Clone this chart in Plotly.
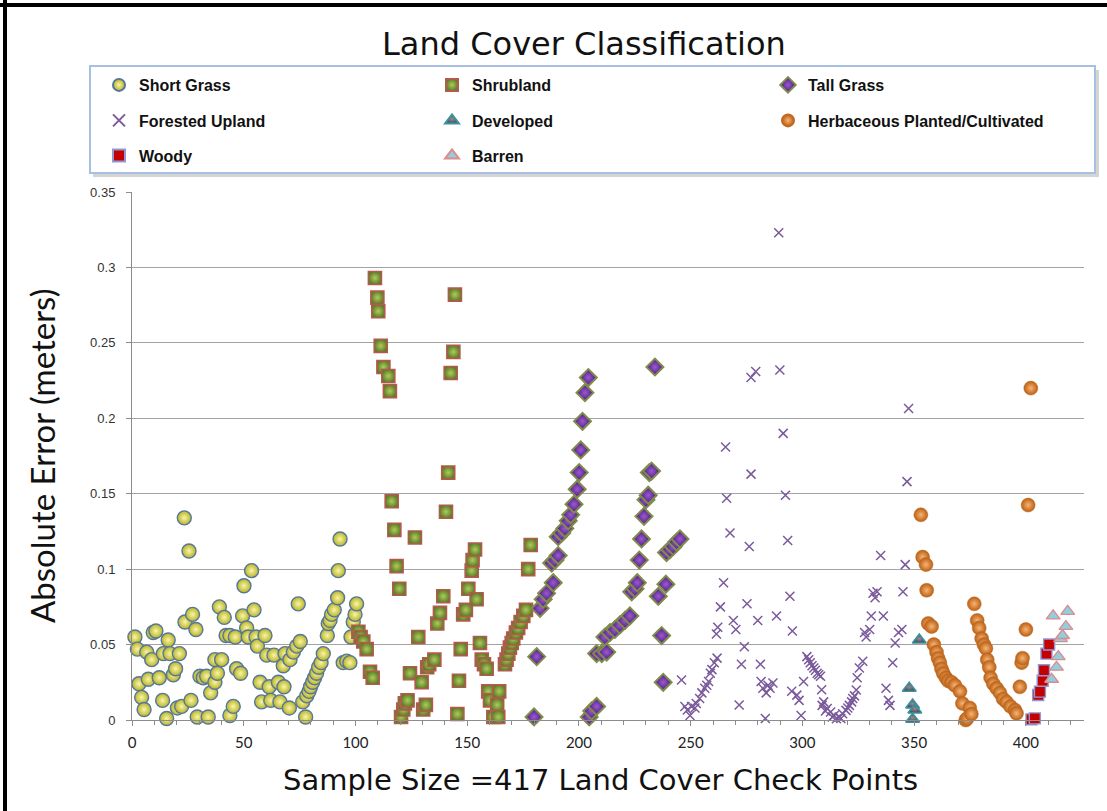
import plotly.graph_objects as go

# ---------------- data ----------------
categories = ["Short Grass", "Shrubland", "Tall Grass", "Forested Upland",
              "Developed", "Herbaceous Planted/Cultivated", "Woody", "Barren"]

short_grass_x = [1.3, 2.4, 3.1, 4.3, 5.4, 6.6, 7.3, 8.8, 9.5, 10.7, 12.2, 13.7, 14.0, 15.5, 16.2,
                 17.0, 18.5, 19.5, 20.3, 21.2, 22.2, 23.4, 23.7, 25.5, 26.4, 27.1, 28.6, 29.2, 30.4,
                 31.9, 33.4, 34.1, 35.2, 37.1, 37.1, 38.2, 39.1, 40.1, 41.3, 42.1, 43.8, 43.8, 45.3,
                 46.2, 46.8, 48.6, 49.5, 50.1, 51.3, 52.0, 53.5, 54.6, 55.5, 56.1, 57.3, 58.0, 59.5,
                 60.3, 61.4, 62.1, 63.5, 65.5, 66.2, 67.7, 68.0, 68.5, 70.4, 70.7, 72.2, 73.7, 74.4,
                 75.3, 76.4, 77.7, 78.2, 79.2, 79.9, 80.8, 81.7, 82.6, 83.5, 84.6, 85.6, 87.4, 87.8,
                 88.6, 89.3, 90.5, 92.0, 92.3, 93.1, 94.5, 96.1, 97.5, 98.0, 99.0, 99.8, 100.5]
short_grass_y = [0.055, 0.047, 0.024, 0.015, 0.007, 0.045, 0.027, 0.040, 0.058, 0.059, 0.028, 0.013,
                 0.044, 0.001, 0.053, 0.044, 0.030, 0.034, 0.008, 0.044, 0.009, 0.134, 0.065, 0.112,
                 0.013, 0.070, 0.060, 0.002, 0.029, 0.028, 0.029, 0.002, 0.018, 0.040, 0.025, 0.031,
                 0.075, 0.040, 0.068, 0.056, 0.056, 0.003, 0.009, 0.055, 0.034, 0.031, 0.069, 0.089,
                 0.061, 0.055, 0.099, 0.073, 0.055, 0.049, 0.025, 0.012, 0.056, 0.043, 0.022, 0.013,
                 0.043, 0.025, 0.012, 0.036, 0.022, 0.044, 0.008, 0.040, 0.045, 0.049, 0.077, 0.052,
                 0.012, 0.002, 0.016, 0.019, 0.022, 0.025, 0.028, 0.031, 0.035, 0.038, 0.044, 0.056,
                 0.064, 0.066, 0.070, 0.073, 0.081, 0.099, 0.120, 0.038, 0.039, 0.038, 0.055, 0.065,
                 0.070, 0.077]

shrubland_x = [101.3, 102.3, 103.5, 105.0, 106.5, 107.7, 108.7, 109.8, 110.2, 111.3, 112.5, 114.7,
               115.4, 116.2, 117.4, 118.4, 119.6, 120.4, 121.4, 122.1, 123.3, 124.4, 126.6, 128.1,
               129.6, 130.3, 131.5, 132.1, 133.0, 135.3, 136.6, 137.8, 139.3, 140.5, 141.5, 142.6,
               143.8, 144.5, 145.6, 146.3, 147.1, 148.2, 149.4, 150.5, 152.0, 152.4, 153.5, 154.2,
               155.7, 156.5, 157.5, 158.7, 159.4, 160.2, 161.7, 163.4, 163.9, 164.3, 166.9, 167.6,
               168.4, 169.1, 169.9, 170.6, 171.8, 172.8, 173.9, 175.1, 176.3, 177.3, 178.4]
shrubland_y = [0.0585, 0.055, 0.052, 0.047, 0.032, 0.028, 0.293, 0.280, 0.271, 0.248, 0.234, 0.228,
               0.218, 0.145, 0.126, 0.102, 0.087, 0.002, 0.007, 0.011, 0.013, 0.031, 0.121, 0.055,
               0.025, 0.007, 0.010, 0.035, 0.037, 0.040, 0.064, 0.071, 0.082, 0.138, 0.164, 0.230,
               0.244, 0.282, 0.004, 0.026, 0.047, 0.070, 0.073, 0.087, 0.099, 0.106, 0.113, 0.080,
               0.051, 0.040, 0.037, 0.034, 0.019, 0.013, 0.002, 0.010, 0.002, 0.019, 0.037, 0.040,
               0.044, 0.048, 0.051, 0.054, 0.058, 0.061, 0.065, 0.069, 0.073, 0.100, 0.116]

tall_grass_x = [179.9, 181.1, 182.6, 184.0, 185.5, 187.8, 188.5, 189.3, 190.7, 190.7, 192.3, 193.7,
                195.2, 196.3, 197.8, 199.2, 200.1, 200.8, 201.6, 202.7, 204.2, 204.6, 205.7, 207.9,
                207.9, 210.2, 211.6, 212.4, 213.9, 216.1, 218.3, 220.6, 222.8, 223.6, 225.1, 226.1,
                227.0, 228.0, 229.1, 230.0, 231.0, 231.5, 232.5, 234.0, 235.5, 237.0, 237.7, 238.9,
                239.2, 240.7, 242.2, 243.7, 245.2]
tall_grass_y = [0.002, 0.042, 0.074, 0.080, 0.084, 0.104, 0.091, 0.106, 0.109, 0.1215, 0.124, 0.127,
                0.132, 0.136, 0.143, 0.153, 0.164, 0.179, 0.198, 0.217, 0.227, 0.002, 0.006, 0.009,
                0.044, 0.044, 0.055, 0.045, 0.058, 0.060, 0.063, 0.066, 0.069, 0.085, 0.087, 0.091,
                0.106, 0.120, 0.135, 0.146, 0.149, 0.164, 0.165, 0.234, 0.082, 0.056, 0.025, 0.090,
                0.111, 0.113, 0.115, 0.118, 0.120]

forested_x = [245.9, 247.4, 248.5, 249.7, 250.4, 251.9, 252.5, 254.0, 255.0, 256.3, 257.2, 258.0,
              258.8, 259.5, 260.6, 261.5, 261.8, 262.1, 263.3, 264.7, 265.6, 266.1, 267.6, 269.1,
              270.2, 271.7, 272.7, 274.0, 275.2, 276.2, 277.0, 277.0, 279.1, 280.0, 281.2, 281.5,
              282.3, 283.4, 283.8, 284.6, 285.5, 286.8, 288.4, 289.4, 289.9, 291.4, 292.4, 293.4,
              294.4, 295.2, 295.5, 297.5, 298.5, 299.4, 300.5, 302.0, 302.8, 303.5, 304.3, 305.1,
              305.8, 306.6, 307.3, 308.1, 308.6, 308.8, 309.5, 310.3, 311.1, 312.6, 313.4, 314.2,
              315.2, 316.4, 317.2, 318.0, 319.5, 320.3, 321.0, 322.0, 322.5, 323.3, 324.1, 324.5,
              325.5, 327.0, 327.8, 328.5, 330.1, 330.8, 331.6, 332.5, 333.4, 335.0, 336.2, 337.4,
              338.5, 339.2, 340.4, 341.5, 343.0, 344.5, 345.0, 346.0, 346.8, 347.5]
forested_y = [0.0265, 0.009, 0.0066, 0.003, 0.009, 0.008, 0.011, 0.0143, 0.018, 0.021, 0.023, 0.0255,
              0.031, 0.0334, 0.038, 0.057, 0.041, 0.0615, 0.075, 0.091, 0.181, 0.147, 0.124, 0.066,
              0.060, 0.010, 0.037, 0.0485, 0.077, 0.115, 0.163, 0.227, 0.231, 0.066, 0.037, 0.0255,
              0.021, 0.001, 0.018, 0.023, 0.021, 0.0245, 0.069, 0.323, 0.232, 0.190, 0.149, 0.119,
              0.082, 0.019, 0.059, 0.0165, 0.013, 0.003, 0.0255, 0.042, 0.040, 0.038, 0.036, 0.0345,
              0.033, 0.031, 0.030, 0.029, 0.020, 0.0097, 0.012, 0.006, 0.0076, 0.0053, 0.002, 0.003,
              0.0008, 0.0019, 0.001, 0.0042, 0.0064, 0.008, 0.0097, 0.012, 0.0143, 0.016, 0.0199, 0.028,
              0.0345, 0.039, 0.058, 0.055, 0.060, 0.069, 0.084, 0.081, 0.085, 0.109, 0.069, 0.021,
              0.013, 0.0097, 0.038, 0.051, 0.058, 0.060, 0.085, 0.103, 0.158, 0.2065]

developed_x = [347.8, 349.3, 350.3, 349.3, 352.3]
developed_y = [0.021, 0.0099, 0.0066, 0.0005, 0.053]

herbaceous_x = [353.0, 353.8, 355.3, 355.6, 356.3, 357.8, 358.8, 360.0, 360.7, 361.5, 362.2, 363.0,
                364.2, 365.2, 366.7, 368.2, 370.5, 371.6, 373.1, 373.7, 374.9, 375.6, 376.9, 378.2,
                379.1, 380.2, 381.2, 382.1, 382.7, 383.6, 384.2, 385.4, 386.9, 388.4, 389.8, 391.3,
                393.1, 395.1, 395.8, 397.3, 398.1, 398.5, 400.0, 401.0, 402.2]
herbaceous_y = [0.136, 0.108, 0.103, 0.086, 0.064, 0.062, 0.050, 0.045, 0.041, 0.038, 0.034, 0.031,
                0.028, 0.026, 0.025, 0.023, 0.019, 0.011, 0.000, 0.001, 0.008, 0.004, 0.077, 0.066,
                0.061, 0.054, 0.050, 0.0475, 0.040, 0.035, 0.028, 0.024, 0.021, 0.018, 0.014, 0.012,
                0.009, 0.0066, 0.0044, 0.022, 0.038, 0.041, 0.060, 0.1425, 0.220]

woody_x = [402.5, 404.0, 405.5, 406.3, 407.5, 408.1, 409.2, 410.4]
woody_y = [0.0004, 0.0011, 0.0166, 0.0188, 0.026, 0.033, 0.044, 0.050]

barren_x = [411.5, 412.2, 413.7, 414.5, 415.5, 416.4, 417.9, 418.7]
barren_y = [0.027, 0.069, 0.035, 0.042, 0.054, 0.056, 0.062, 0.072]

x_tick_values = [0, 50, 100, 150, 200, 250, 300, 350, 400]

series_x = [short_grass_x, shrubland_x, tall_grass_x, forested_x,
            developed_x, herbaceous_x, woody_x, barren_x]
series_y = [short_grass_y, shrubland_y, tall_grass_y, forested_y,
            developed_y, herbaceous_y, woody_y, barren_y]

# ---------------- styles ----------------
# "edge" = marker colour (outer), "centre" = radial gradient colour (inner highlight)
styles = [
    dict(symbol="circle", size=14, edge="#b9b327", centre="#f8f6a8", line="#55779a", lw=1.4),
    dict(symbol="square", size=13, edge="#5f7d24", centre="#aecb60", line="#b25a4e", lw=1.6),
    dict(symbol="diamond", size=13, edge="#4b187e", centre="#9a5ad0", line="#7f8c4c", lw=2.0),
    dict(symbol="x-thin-open", size=9, edge="#7a5a9c", centre=None, line="#7a5a9c", lw=1.5),
    dict(symbol="triangle-up", size=12, edge="#444a55", centre="#9a8a8e", line="#3a93a3", lw=1.6),
    dict(symbol="circle", size=14, edge="#b95f16", centre="#f8b472", line="#c06a20", lw=0.5),
    dict(symbol="square", size=11, edge="#c40000", centre=None, line="#8f9ad4", lw=1.4),
    dict(symbol="triangle-up", size=12, edge="#8fcfe0", centre=None, line="#e08a8a", lw=1.3),
]

# legend layout: column text starts (px) and row centres (px)
col_px = [139, 472, 808]
row_px = [85, 120.5, 155.5]
legend_slots = [(0, 0), (1, 0), (2, 0), (0, 1), (1, 1), (2, 1), (0, 2), (1, 2)]

# plot area in pixels
L, R, T, B = 132, 1084, 192, 720
W, H = 1107, 811


def px2paper_x(px):
    return (px - L) / (R - L)


def px2paper_y(py):
    return (B - py) / (B - T)


fig = go.Figure()
layout_legends = {}
for i, name in enumerate(categories):
    st = styles[i]
    marker = dict(symbol=st["symbol"], size=st["size"], color=st["edge"],
                  line=dict(color=st["line"], width=st["lw"]))
    if st["centre"]:
        marker["gradient"] = dict(type="radial", color=st["centre"])
    lkey = "legend" if i == 0 else f"legend{i + 1}"
    fig.add_trace(go.Scatter(x=series_x[i], y=series_y[i], mode="markers", name=name,
                             marker=marker, cliponaxis=False, legend=lkey))
    c, r = legend_slots[i]
    layout_legends[lkey] = dict(
        x=px2paper_x(col_px[c] - 40), y=px2paper_y(row_px[r]),
        xanchor="left", yanchor="middle", bgcolor="rgba(0,0,0,0)", borderwidth=0,
        itemsizing="constant", orientation="h",
        font=dict(family="Liberation Sans", size=16, color="#111", weight="bold"))

fig.update_layout(**layout_legends)

fig.update_layout(
    width=W, height=H,
    margin=dict(l=L, r=W - R, t=T, b=H - B, pad=0, autoexpand=False),
    paper_bgcolor="white", plot_bgcolor="white",
    showlegend=True,
    xaxis=dict(range=[0, 426], tickvals=x_tick_values, ticks="outside", ticklen=5,
               tickcolor="#8c8c8c", showline=True, linecolor="#8c8c8c", linewidth=1,
               showgrid=False, zeroline=False, automargin=False, ticklabelstandoff=4,
               minor=dict(dtick=10, tick0=0, ticks="outside", ticklen=4, tickcolor="#8c8c8c",
                          showgrid=False),
               tickfont=dict(family="Lato", size=15, color="#222")),
    yaxis=dict(range=[0, 0.35], dtick=0.05, tick0=0, showgrid=True, gridcolor="#a3a3a3",
               gridwidth=1, showline=True, linecolor="#8c8c8c", linewidth=1, ticks="outside",
               ticklen=5, tickcolor="#8c8c8c", zeroline=False, ticklabelstandoff=8,
               automargin=False,
               tickfont=dict(family="Liberation Sans", size=13, color="#333")),
)

# frame lines (left & top), legend box with shadow
shapes = [
    dict(type="line", xref="paper", yref="paper", x0=px2paper_x(5), x1=px2paper_x(5),
         y0=px2paper_y(0), y1=px2paper_y(H), line=dict(color="black", width=4)),
    dict(type="line", xref="paper", yref="paper", x0=px2paper_x(0), x1=px2paper_x(W),
         y0=px2paper_y(5), y1=px2paper_y(5), line=dict(color="black", width=4)),
    dict(type="rect", xref="paper", yref="paper", x0=px2paper_x(93), x1=px2paper_x(1099),
         y0=px2paper_y(177), y1=px2paper_y(70), line=dict(width=0), fillcolor="#d4d4d4",
         layer="below"),
    dict(type="rect", xref="paper", yref="paper", x0=px2paper_x(90), x1=px2paper_x(1095),
         y0=px2paper_y(173), y1=px2paper_y(66), line=dict(color="#a7bfe2", width=2),
         fillcolor="white", layer="below"),
]
fig.update_layout(shapes=shapes)

annotations = [
    dict(text="Land Cover Classification", xref="paper", yref="paper",
         x=px2paper_x(584), y=px2paper_y(44), xanchor="center", yanchor="middle",
         showarrow=False, font=dict(family="DejaVu Sans", size=32, color="#111")),
    dict(text="Sample Size =417 Land Cover Check Points", xref="paper", yref="paper",
         x=px2paper_x(600), y=px2paper_y(780), xanchor="center", yanchor="middle",
         showarrow=False, font=dict(family="DejaVu Sans", size=29, color="#111")),
    dict(text="Absolute Error (meters)", xref="paper", yref="paper",
         x=px2paper_x(42), y=px2paper_y(456), xanchor="center", yanchor="middle",
         textangle=-90, showarrow=False, font=dict(family="Lato", size=33, color="#111")),
]
fig.update_layout(annotations=annotations)

fig.write_html("out.html", config={"displayModeBar": False},
               post_script="document.body.style.margin='0';document.body.style.padding='0';")
